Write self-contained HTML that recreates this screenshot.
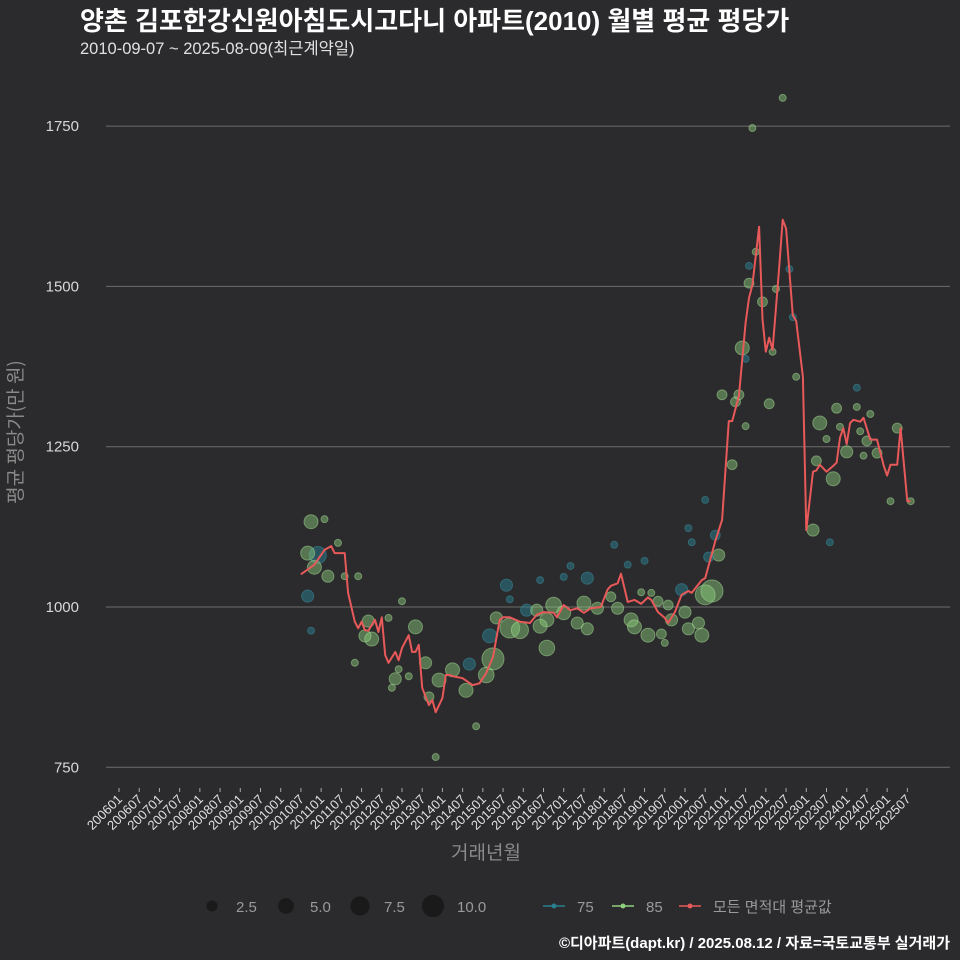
<!DOCTYPE html>
<html><head><meta charset="utf-8"><style>
body{margin:0;background:#2b2a2c;}
svg{display:block;font-family:"Liberation Sans","Noto Sans CJK KR",sans-serif;}
</style></head><body>
<svg id="chart" width="960" height="960" viewBox="0 0 960 960" xmlns="http://www.w3.org/2000/svg">
<rect width="960" height="960" fill="#2b2a2c"/>
<text x="80" y="30" fill="#ffffff" font-size="26" font-weight="bold">양촌 김포한강신원아침도시고다니 아파트(2010) 월별 평균 평당가</text>
<text x="80" y="54" fill="#e0e0e0" font-size="16.5">2010-09-07 ~ 2025-08-09(최근계약일)</text>
<g id="grid"></g>
<g id="bubbles"></g>
<g id="line"></g>
<g id="xaxis"></g>
<text x="22" y="432" fill="#8a8a8a" font-size="19" text-anchor="middle" transform="rotate(-90 22 432)" style="font-family:'Noto Sans CJK KR',sans-serif">평균 평당가(만 원)</text>
<text x="486" y="859" fill="#8a8a8a" font-size="19" text-anchor="middle">거래년월</text>
<g id="legend"></g>
<text x="950" y="948" fill="#ffffff" font-size="15" font-weight="bold" text-anchor="end">©디아파트(dapt.kr) / 2025.08.12 / 자료=국토교통부 실거래가</text>
</svg>
<script>
const yTicks=[750,1000,1250,1500,1750];
const xTickLabels=[];
for(let y=2006;y<=2025;y++){xTickLabels.push(y+"01");xTickLabels.push(y+"07");}
const lineMonths=[201007,201011,201102,201104,201105,201108,201109,201111,201112,201201,201202,201203,201205,201206,201207,201208,201209,201211,201212,201301,201303,201304,201305,201306,201307,201309,201310,201311,201401,201402,201403,201405,201407,201410,201412,201502,201504,201506,201507,201509,201512,201603,201605,201607,201610,201611,201701,201703,201705,201707,201709,201712,201802,201803,201805,201806,201808,201810,201812,201902,201903,201905,201907,201908,201910,201912,202002,202003,202006,202007,202010,202012,202102,202103,202105,202107,202108,202109,202111,202112,202201,202202,202203,202205,202206,202207,202209,202210,202212,202301,202303,202304,202305,202307,202309,202310,202311,202312,202401,202402,202403,202405,202406,202408,202410,202412,202501,202502,202504,202505,202507,202508];
const lineValues=[1051,1066,1089,1095,1084,1084,1022,977,967,977,964,963,980,961,984,925,913,930,917,936,956,930,930,941,874,847,855,836,858,894,894,891,889,878,881,897,922,980,984,984,977,975,988,992,991,984,1003,995,998,991,998,1000,1027,1033,1037,1052,1008,1011,1005,1015,1011,992,983,975,992,1019,1025,1022,1042,1045,1103,1136,1290,1290,1329,1443,1482,1502,1593,1449,1398,1420,1401,1532,1604,1590,1455,1446,1359,1120,1211,1213,1222,1211,1220,1225,1264,1279,1254,1287,1292,1289,1295,1261,1261,1220,1205,1222,1222,1279,1165,1165];
// bubbles: month, value, count, type
const bubbleMonths=[201010,201102,201106,201009,201012,201011,201103,201108,201112,201009,201010,201301,201203,201209,201202,201204,201305,201111,201211,201210,201212,201303,201308,201309,201312,201404,201409,201408,201411,201311,201503,201504,201502,201508,201509,201505,201509,201512,201602,201605,201610,201608,201606,201608,201708,201703,201701,201606,201701,201707,201708,201705,201711,
202109,202206,202110,202108,202108,202112,202204,202208,202209,202203,202106,202107,202210,202012,202105,202104,202202,202107,202103,202007,202002,202003,202010,202011,202008,202009,202007,201912,201804,201808,201901,201803,201805,201809,201810,201902,201906,201905,201908,201909,202001,202002,202005,202006,201907,201812,201903,202303,202305,202310,202307,202304,202309,202308,202401,202311,202404,202404,202408,202407,202410,202504,202502,202508,202406,202405];
const bubbleValues=[1133,1137,1100,1084,1081,1062,1048,1048,1048,1017,963,1009,978,983,955,950,969,913,888,874,903,892,913,860,886,902,911,870,814,766,955,919,894,1034,1012,983,967,964,995,995,1003,980,970,936,1045,1064,1047,1042,991,1006,966,975,998,1747,1794,1554,1532,1505,1476,1496,1527,1452,1398,1404,1387,1359,1331,1331,1320,1317,1282,1222,1167,1123,1101,1112,1081,1078,1025,1019,1027,1097,1066,1072,1016,998,980,969,956,958,1009,1003,980,992,966,975,956,944,1023,1022,1120,1287,1310,1262,1228,1200,1101,1242,1281,1312,1342,1301,1259,1240,1279,1165,1165,1236,1274];
const bubbleCounts=[4,1,1,4,6,4,3,1,1,3,1,1,3,1,3,4,4,1,3,1,1,1,3,2,4,4,3,4,1,1,4,10,5,3,1,3,8,6,3,3,5,4,4,5,3,1,1,1,4,4,3,3,3,1,1,1,1,2,2,1,1,1,1,4,1,1,2,2,2,2,1,2,1,1,1,2,3,2,10,8,3,1,1,1,2,3,4,4,4,2,2,2,3,3,3,3,4,1,1,1,3,4,2,1,2,4,1,3,1,1,1,1,2,2,2,1,1,1,1];
const bubbleTypes=[85,85,85,85,75,85,85,85,85,75,75,85,85,85,85,85,85,85,85,85,85,85,85,85,85,85,75,85,85,85,75,85,85,75,75,85,85,85,75,85,85,85,85,85,75,75,75,75,85,85,85,85,85,85,85,85,75,85,85,85,75,75,85,85,75,85,85,85,85,85,85,85,75,75,75,75,85,75,85,85,75,75,75,75,85,85,85,85,85,85,85,85,85,85,85,85,85,85,85,85,85,85,85,85,85,85,75,85,85,85,75,85,85,85,85,85,85,85,85];

const NS="http://www.w3.org/2000/svg";
function mk(tag,attrs,parent){const e=document.createElementNS(NS,tag);for(const k in attrs)e.setAttribute(k,attrs[k]);parent.appendChild(e);return e;}
function mIdx(code){const s=String(code);return (parseInt(s.slice(0,4))-2006)*12+parseInt(s.slice(4,6))-1;}
function xScale(code){return 119+mIdx(code)*3.369;}
function yScale(v){return 607-(v-1000)*0.6412;}

const grid=document.getElementById('grid');
yTicks.forEach(t=>{
  const l=mk('line',{x1:106,x2:950,y1:yScale(t),y2:yScale(t),stroke:'#6e6e6e','stroke-width':1},grid);
  
  
  const tx=mk('text',{x:79,y:yScale(t)+5,fill:'#d8d8d8','font-size':15,'text-anchor':'end'},grid);
  tx.textContent=t;
  
  
});
const xa=document.getElementById('xaxis');
xTickLabels.forEach(lb=>{
  const x=xScale(lb);
  const tk=mk('line',{x1:x,x2:x,y1:788,y2:792,stroke:'#aaaaaa','stroke-width':1},xa);
  
  
  const t=mk('text',{x:x+4,y:800,fill:'#e0e0e0','font-size':13,'text-anchor':'end',transform:'rotate(-45 '+(x+4)+' 800)'},xa);
  t.textContent=lb;
  
  
});
const bg=document.getElementById('bubbles');
const order=bubbleMonths.map((_,i)=>i).sort((a,b)=>bubbleCounts[b]-bubbleCounts[a]);
order.forEach(i=>{
  const teal=bubbleTypes[i]===75;
  const c=mk('circle',{cx:xScale(bubbleMonths[i]),cy:yScale(bubbleValues[i]),r:3.5*Math.sqrt(bubbleCounts[i]),
    fill:teal?'#2a7f8f':'#8fd07e','fill-opacity':teal?0.5:0.45,stroke:teal?'#3a8f9f':'#a5dc95','stroke-opacity':0.5,'stroke-width':1},bg);
  
  
});
const lg=document.getElementById('line');
const pts=lineMonths.map((m,i)=>xScale(m).toFixed(1)+','+yScale(lineValues[i]).toFixed(1)).join(' ');
const pl=mk('polyline',{points:pts,fill:'none',stroke:'#e8595a','stroke-width':2,'stroke-linejoin':'round'},lg);



const leg=document.getElementById('legend');
const sizes=[2.5,5,7.5,10],sx=[212,286,360,433];
sizes.forEach((s,i)=>{
  const c=mk('circle',{cx:sx[i],cy:906,r:3.5*Math.sqrt(s),fill:'#1a1a1a'},leg);
  
  
  const t=mk('text',{x:sx[i]+24,y:912,fill:'#9a9a9a','font-size':15},leg);
  t.textContent=s.toFixed(1);
  
  
});
const ser=[['75','#2a7f8f',543],['85','#8fd07e',612],['모든 면적대 평균값','#e8595a',679]];
ser.forEach(s=>{
  const l=mk('line',{x1:s[2],x2:s[2]+22,y1:906,y2:906,stroke:s[1],'stroke-width':1.5},leg);
  
  
  const c=mk('circle',{cx:s[2]+11,cy:906,r:2.5,fill:s[1]},leg);
  
  
  const t=mk('text',{x:s[2]+34,y:912,fill:'#9a9a9a','font-size':15},leg);
  t.textContent=s[0];
  
  
});
</script>
</body></html>
